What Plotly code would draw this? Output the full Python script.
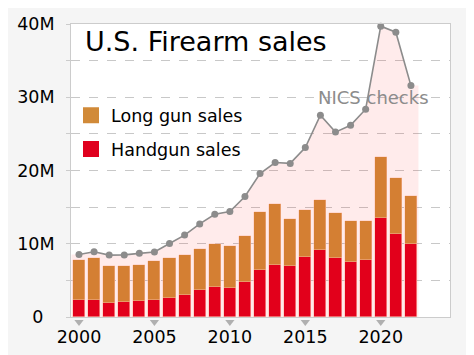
import plotly.graph_objects as go

years = list(range(2000, 2023))
handgun = [2.30, 2.27, 1.95, 2.04, 2.13, 2.36, 2.63, 3.00, 3.68, 4.09, 4.00,
           4.81, 6.45, 7.08, 7.00, 8.22, 9.08, 8.09, 7.54, 7.72, 13.53, 11.30, 9.99]
total_sales = [7.72, 8.00, 6.90, 6.90, 7.08, 7.63, 8.08, 8.50, 9.35, 9.94, 9.63,
               11.08, 14.30, 15.44, 13.35, 14.58, 15.99, 14.20, 13.17, 13.17, 21.90, 19.00, 16.57]
longgun = [round(t - h, 2) for t, h in zip(total_sales, handgun)]
nics = [8.54, 8.91, 8.45, 8.48, 8.69, 8.87, 10.04, 11.18, 12.71, 14.03, 14.41,
        16.45, 19.59, 21.09, 20.97, 23.14, 27.54, 25.24, 26.18, 28.37, 39.70, 38.88, 31.59]
x_tick_years = [2000, 2005, 2010, 2015, 2020]
y_tick_vals = [0, 5, 10, 15, 20, 25, 30, 35, 40]
y_tick_text = ["0\u2007", "", "10M", "", "20M", "", "30M", "", "40M"]

LONG_C = "#d18a38"
HAND_C = "#e0001e"
GRAY = "#8c8c8c"
FONT = "DejaVu Sans"

fig = go.Figure()

# pink area under NICS line, extended half a year each side
fig.add_trace(go.Scatter(
    x=[years[0] - 0.5] + years + [years[-1] + 0.5],
    y=[nics[0]] + nics + [nics[-1]],
    mode="lines", line=dict(width=0), fill="tozeroy",
    fillcolor="rgba(255,0,0,0.08)", showlegend=False, hoverinfo="skip"))

fig.add_trace(go.Bar(x=years, y=handgun, name="Handgun sales", width=0.8,
                     marker=dict(color=HAND_C, line=dict(color="rgba(255,210,190,0.8)", width=0.7)),
                     showlegend=False))
fig.add_trace(go.Bar(x=years, y=longgun, name="Long gun sales", width=0.8,
                     marker=dict(color=LONG_C, line=dict(color="rgba(255,210,190,0.6)", width=0.7)),
                     showlegend=False))

fig.add_trace(go.Scatter(x=years, y=nics, mode="lines+markers", name="NICS checks",
                         line=dict(color=GRAY, width=1.6),
                         marker=dict(color=GRAY, size=7), cliponaxis=False, showlegend=False))

# tick triangles just below the x axis (marker pushed down by standoff)
fig.add_trace(go.Scatter(x=x_tick_years, y=[0] * len(x_tick_years), mode="markers",
                         marker=dict(symbol="triangle-down", size=8, color="#b0b0b0",
                                     standoff=5, line=dict(width=0)),
                         cliponaxis=False, showlegend=False, hoverinfo="skip"))

# legend entries
fig.add_trace(go.Scatter(x=[None], y=[None], mode="markers", name="Long gun sales",
                         marker=dict(symbol="square", size=16, color=LONG_C),
                         legendgroup="a", legendrank=1))
fig.add_trace(go.Scatter(x=[None], y=[None], mode="markers", name="Handgun sales",
                         marker=dict(symbol="square", size=16, color=HAND_C),
                         legendgroup="b", legendrank=2))

annotations = [
    dict(text="U.S. Firearm sales", xref="paper", yref="paper", x=0.032, y=0.9386,
         xanchor="left", yanchor="middle", showarrow=False,
         font=dict(size=27, family=FONT, color="black")),
    dict(text="NICS checks", xref="x", yref="y", x=2019.55, y=30.0,
         xanchor="center", yanchor="middle", showarrow=False,
         font=dict(size=18, family=FONT, color=GRAY)),
]

fig.update_layout(
    width=466, height=347,
    margin=dict(l=63, r=24, t=16, b=38),
    paper_bgcolor="#f5f5f5", plot_bgcolor="white",
    barmode="stack", bargap=0,
    font=dict(family=FONT, size=17.5, color="black"),
    showlegend=True,
    legend=dict(x=0.0, y=0.75, xanchor="left", yanchor="top",
                bgcolor="rgba(0,0,0,0)", traceorder="grouped", tracegroupgap=8,
                itemsizing="trace", font=dict(size=17.5, family=FONT)),
    xaxis=dict(range=[1999.47, 2024.59], tickvals=x_tick_years,
               ticks="", showgrid=False, zeroline=False,
               showline=True, linecolor="#cccccc", mirror=True, automargin=False,
               ticklabelstandoff=4, tickfont=dict(size=17.5)),
    yaxis=dict(range=[0, 40], tickvals=y_tick_vals, ticktext=y_tick_text,
               showgrid=True, gridcolor="#c8c8c8", griddash="dash", gridwidth=1,
               zeroline=False, showline=True, linecolor="#cccccc", mirror=True,
               ticks="outside", ticklen=4, tickcolor="#cccccc", automargin=False,
               ticklabelstandoff=8, tickfont=dict(size=17.5)),
    annotations=annotations,
)

fig.write_html("out.html")
